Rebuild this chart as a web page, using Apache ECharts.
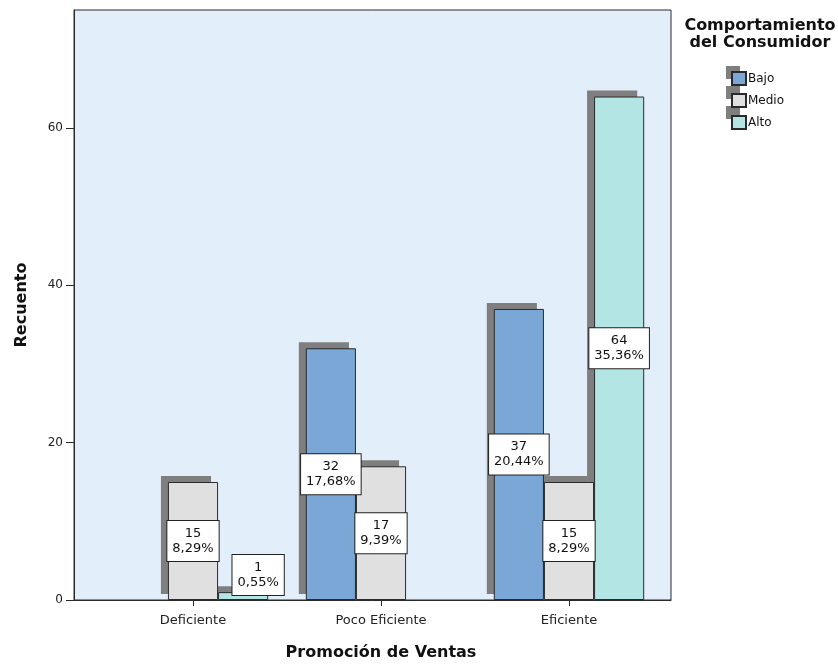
<!DOCTYPE html>
<html>
<head>
<meta charset="utf-8">
<script src="https://cdn.jsdelivr.net/npm/echarts@6/dist/echarts.min.js"></script>
<style>
html, body { margin: 0; padding: 0; background: #fff; }
#chart { width: 838px; height: 666px; }
</style>
</head>
<body>
<div id="chart"></div>
<script>
var categories = ['Deficiente', 'Poco Eficiente', 'Eficiente'];
var seriesNames = ['Bajo', 'Medio', 'Alto'];
var bajo = [0, 32, 37];
var medio = [15, 17, 15];
var alto = [1, 0, 64];
var bajoPct = ['0,00%', '17,68%', '20,44%'];
var medioPct = ['8,29%', '9,39%', '8,29%'];
var altoPct = ['0,55%', '0,00%', '35,36%'];
var yTicks = [0, 20, 40, 60];

var colors = ['#7aa7d6', '#e0e0e0', '#b4e5e5'];
var shadowColor = '#7f7f7f';
var font = 'DejaVu Sans';

function buildData(values, pcts) {
	return values.map(function(v, i) {
		if (v === 0) return '-';
		var item = { value: v, pct: pcts[i] };
		// tiny bar: SPSS nudges the label up and right
		if (v < 3) item.label = { offset: [15, -21] };
		return item;
	});
}

function makeSeries(name, values, pcts, color) {
	return {
		name: name,
		type: 'bar',
		xAxisIndex: 1,
		yAxisIndex: 1,
		barGap: 0,
		barCategoryGap: '20%',
		z: 3,
		data: buildData(values, pcts),
		itemStyle: { color: color, borderColor: '#2a2a2a', borderWidth: 1 },
		label: {
			show: true,
			position: 'inside',
			formatter: function(p) { return p.value + '\n' + p.data.pct; },
			fontFamily: font,
			fontSize: 13,
			lineHeight: 15,
			color: '#111',
			align: 'center',
			backgroundColor: '#fff',
			borderColor: '#222',
			borderWidth: 1,
			padding: [5, 5, 5, 5]
		}
	};
}

// same bars on a grid shifted up-left, drawn behind
function makeShadow(name, values) {
	return {
		name: name + '_s',
		type: 'bar',
		xAxisIndex: 2,
		yAxisIndex: 2,
		barGap: 0,
		barCategoryGap: '20%',
		z: 1,
		silent: true,
		data: values.map(function(v) { return v === 0 ? '-' : v; }),
		itemStyle: { color: shadowColor }
	};
}

var legendBase = {
	orient: 'vertical',
	padding: 0,
	itemWidth: 14,
	itemHeight: 13,
	itemGap: 7,
	icon: 'rect',
	selectedMode: false
};

var chart = echarts.init(document.getElementById('chart'));
var option = {
	animation: false,
	backgroundColor: '#fff',
	grid: [
		{ left: 74, top: 10, width: 597, height: 590, show: true,
		  backgroundColor: '#e2eefa', borderColor: '#2a2a2a', borderWidth: 1 },
		{ left: 99, top: 10, width: 564, height: 590 },
		{ left: 92, top: 4, width: 564, height: 590 }
	],
	xAxis: [
		{ type: 'value', gridIndex: 0, min: 0, max: 1,
		  axisLine: { show: true, lineStyle: { color: '#2a2a2a' } },
		  axisTick: { show: false }, axisLabel: { show: false }, splitLine: { show: false } },
		{ type: 'category', gridIndex: 1, data: categories,
		  axisLine: { show: false },
		  axisTick: { show: true, alignWithLabel: true, length: 6, lineStyle: { color: '#2a2a2a' } },
		  axisLabel: { fontFamily: font, fontSize: 13, color: '#222', margin: 14 },
		  name: 'Promoción de Ventas', nameLocation: 'middle', nameGap: 45,
		  nameTextStyle: { fontFamily: font, fontSize: 16, fontWeight: 'bold', color: '#111' } },
		{ type: 'category', gridIndex: 2, data: categories, show: false }
	],
	yAxis: [
		{ type: 'value', gridIndex: 0, min: 0, max: 75, interval: 20,
		  axisLine: { show: true, lineStyle: { color: '#2a2a2a' } },
		  axisTick: { show: true, length: 8, customValues: yTicks, lineStyle: { color: '#2a2a2a' } },
		  axisLabel: { customValues: yTicks, fontFamily: font, fontSize: 12, color: '#222', margin: 11 },
		  splitLine: { show: false },
		  name: 'Recuento', nameLocation: 'middle', nameGap: 44,
		  nameTextStyle: { fontFamily: font, fontSize: 16, fontWeight: 'bold', color: '#111' } },
		{ type: 'value', gridIndex: 1, min: 0, max: 75, show: false },
		{ type: 'value', gridIndex: 2, min: 0, max: 75, show: false }
	],
	legend: [
		Object.assign({}, legendBase, {
			left: 726, top: 66, z: 3,
			data: seriesNames.map(function(n) { return n + '_s'; }),
			formatter: function(n) { return n.replace('_s', ''); },
			textStyle: { fontFamily: font, fontSize: 12, color: 'rgba(0,0,0,0)' }
		}),
		Object.assign({}, legendBase, {
			left: 731, top: 71, z: 4,
			data: seriesNames,
			textStyle: { fontFamily: font, fontSize: 12, color: '#111', padding: [0, 0, 0, -3] }
		})
	],
	graphic: [{
		type: 'text',
		x: 760,
		y: 17,
		style: {
			text: 'Comportamiento\ndel Consumidor',
			fontFamily: font,
			fontSize: 16,
			fontWeight: 'bold',
			lineHeight: 17,
			fill: '#111',
			align: 'center',
			verticalAlign: 'top'
		}
	}],
	series: [
		makeShadow('Bajo', bajo),
		makeShadow('Medio', medio),
		makeShadow('Alto', alto),
		makeSeries('Bajo', bajo, bajoPct, colors[0]),
		makeSeries('Medio', medio, medioPct, colors[1]),
		makeSeries('Alto', alto, altoPct, colors[2])
	]
};
chart.setOption(option);
</script>
</body>
</html>
